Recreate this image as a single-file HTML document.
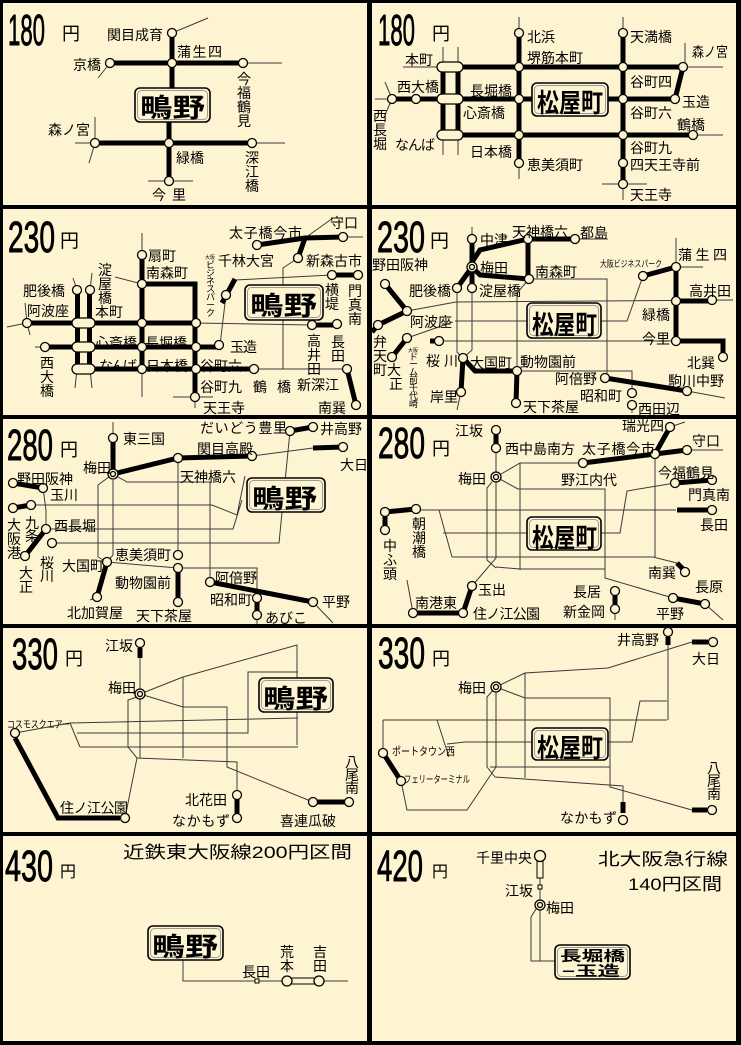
<!DOCTYPE html>
<html><head><meta charset="utf-8">
<style>
html,body{margin:0;padding:0;background:#000;}
svg{display:block}
text{font-family:"Liberation Sans","Noto Sans CJK JP",sans-serif;font-size:14px;fill:#000}
.big{font-size:44px;stroke:#000;stroke-width:0.9}
.yen{font-size:18px}
.bt{font-size:26px;font-weight:bold}
.bt2{font-size:14px;font-weight:bold}
.t1{font-size:17px}
.k{stroke:#000;stroke-width:5;fill:none}
.n{stroke:#3a3a3a;stroke-width:1;fill:none}
.s{fill:#FFF4D2;stroke:#000;stroke-width:1.3}
.b{fill:#FFF4D2;stroke:#000;stroke-width:1.6}
.bi{fill:none;stroke:#9a9a9a;stroke-width:1}
</style></head><body>
<svg width="741" height="1045" viewBox="0 0 741 1045" xmlns="http://www.w3.org/2000/svg">
<rect width="741" height="1045" fill="#000"/>
<g fill="#FFF4D2">
<rect x="3" y="3" width="364" height="202"/>
<rect x="372" y="3" width="364" height="202"/>
<rect x="3" y="209" width="364" height="206"/>
<rect x="372" y="209" width="364" height="206"/>
<rect x="3" y="419" width="364" height="205"/>
<rect x="372" y="419" width="364" height="205"/>
<rect x="3" y="628" width="364" height="204"/>
<rect x="372" y="628" width="364" height="204"/>
<rect x="3" y="836" width="364" height="205"/>
<rect x="372" y="836" width="364" height="205"/>
</g>

<!-- ===== Panel 1 ===== -->
<text class="big" x="8" y="45" textLength="37" lengthAdjust="spacingAndGlyphs">180</text>
<text class="yen" x="62" y="40">円</text>
<path class="n" d="M172,33 L208,18 M243,63 H282 M110,63 L98,78 M95,117 V143 M75,143 H95 M95,143 L89,163 M252,143 H285 M148,181 H193"/>
<path class="k" d="M172,33 V95 M169,115 V181 M110,63 H243 M95,143 H252"/>
<g class="s">
<circle cx="172" cy="33" r="4.5"/><circle cx="172" cy="63" r="4.5"/><circle cx="110" cy="63" r="4.5"/><circle cx="243" cy="63" r="4.5"/>
<circle cx="95" cy="143" r="4.5"/><circle cx="169" cy="143" r="4.5"/><circle cx="252" cy="143" r="4.5"/><circle cx="169" cy="181" r="4.5"/>
</g>
<rect class="b" x="135" y="88" width="75" height="34" rx="5"/><rect class="bi" x="137.5" y="90.5" width="70" height="29" rx="4"/>
<text class="bt" x="140" y="117" textLength="65" lengthAdjust="spacingAndGlyphs">鴫野</text>
<text x="107" y="40">関目成育</text>
<text x="177" y="57" textLength="45" lengthAdjust="spacing">蒲生四</text>
<text x="73" y="70">京橋</text>
<text><tspan x="237" y="84">今</tspan><tspan x="237" y="98">福</tspan><tspan x="237" y="112">鶴</tspan><tspan x="237" y="126">見</tspan></text>
<text x="48" y="135" textLength="42" lengthAdjust="spacing">森ノ宮</text>
<text x="176" y="163">緑橋</text>
<text><tspan x="245" y="163">深</tspan><tspan x="245" y="177">江</tspan><tspan x="245" y="191">橋</tspan></text>
<text x="152" y="200" textLength="34" lengthAdjust="spacing">今里</text>

<!-- ===== Panel 2 ===== -->
<text class="big" x="378" y="45" textLength="37" lengthAdjust="spacingAndGlyphs">180</text>
<text class="yen" x="432" y="40">円</text>
<path class="n" d="M519,17 V33 M519,163 V179 M623,17 V33 M623,184 V200 M602,184 H647 M403,67 H437 M683,67 H723 M685,43 V67 M693,135 H723 M443,47 V62 M458,47 V62 M443,140 V155 M458,140 V155 M392,99 L385,82 M392,99 H375 M392,99 L385,115"/>
<path class="k" d="M519,33 V163 M623,33 V184 M463,67 H683 L675,99 M392,99 H675 M463,135 H693 M443,67 V135 M458,67 V135"/>
<g class="s">
<rect x="437" y="62" width="26" height="10" rx="5"/><rect x="437" y="94" width="26" height="10" rx="5"/><rect x="437" y="130" width="26" height="10" rx="5"/>
<circle cx="519" cy="33" r="4.5"/><circle cx="519" cy="67" r="4.5"/><circle cx="519" cy="99" r="4.5"/><circle cx="519" cy="135" r="4.5"/><circle cx="519" cy="163" r="4.5"/>
<circle cx="623" cy="33" r="4.5"/><circle cx="623" cy="67" r="4.5"/><circle cx="623" cy="99" r="4.5"/><circle cx="623" cy="135" r="4.5"/><circle cx="623" cy="163" r="4.5"/><circle cx="623" cy="184" r="4.5"/>
<circle cx="683" cy="67" r="4.5"/><circle cx="675" cy="99" r="4.5"/><circle cx="693" cy="135" r="4.5"/><circle cx="416" cy="99" r="4.5"/><circle cx="392" cy="99" r="4.5"/>
</g>
<rect class="b" x="532" y="83" width="76" height="33" rx="5"/><rect class="bi" x="534.5" y="85.5" width="71" height="28" rx="4"/>
<text class="bt" x="537" y="112" textLength="66" lengthAdjust="spacingAndGlyphs">松屋町</text>
<text x="527" y="42">北浜</text>
<text x="527" y="63">堺筋本町</text>
<text x="630" y="42">天満橋</text>
<text x="692" y="57" textLength="36" lengthAdjust="spacingAndGlyphs">森ノ宮</text>
<text x="405" y="65">本町</text>
<text x="397" y="92">西大橋</text>
<text x="470" y="96">長堀橋</text>
<text x="463" y="118">心斎橋</text>
<text><tspan x="373" y="121">西</tspan><tspan x="373" y="135">長</tspan><tspan x="373" y="149">堀</tspan></text>
<text x="395" y="150" textLength="40" lengthAdjust="spacing">なんば</text>
<text x="470" y="157">日本橋</text>
<text x="527" y="170">恵美須町</text>
<text x="630" y="87">谷町四</text>
<text x="682" y="107">玉造</text>
<text x="630" y="118">谷町六</text>
<text x="677" y="130">鶴橋</text>
<text x="630" y="153">谷町九</text>
<text x="630" y="170">四天王寺前</text>
<text x="630" y="200">天王寺</text>

<!-- ===== Panel 3 ===== -->
<text class="big" x="8" y="252" textLength="47" lengthAdjust="spacingAndGlyphs">230</text>
<text class="yen" x="60" y="247" style="font-size:19px">円</text>
<path class="n" d="M27,323 L7,327 M27,323 L25,303 M27,323 L30,335 M45,347 H35 M77,369 L75,388 M90,369 L92,388 M77,290 L73,278 M90,290 L92,273 M142,233 V255 M142,369 V397 M173,397 H213 M195,397 V408 M142,284 L115,277 M226,295 L220,345 M235,280 L332,275 M343,237 H363 M305,238 L333,218 M298,258 L283,268 V369 M196,323 L312,325 M254,369 H347"/>
<path class="k" d="M27,323 H196 M45,347 H219 M75,369 H254 M77.5,290 V369 M89.5,290 V369 M142,255 V369 M142,284 H195 V397 M235,279 L222,303 M332,275 H358 M257,245 L305,238 L343,237 M305,238 L298,258 M312,325 H337 M347,369 L356,405"/>
<g class="s">
<rect x="72" y="318" width="23" height="10" rx="5"/><rect x="72" y="342" width="23" height="10" rx="5"/><rect x="72" y="364" width="23" height="10" rx="5"/>
<circle cx="27" cy="323" r="4.5"/><circle cx="45" cy="347" r="4.5"/><circle cx="77" cy="290" r="4.5"/><circle cx="90" cy="290" r="4.5"/>
<circle cx="142" cy="255" r="4.5"/><circle cx="142" cy="284" r="4.5"/><circle cx="142" cy="323" r="4.5"/><circle cx="142" cy="347" r="4.5"/><circle cx="142" cy="369" r="4.5"/>
<circle cx="196" cy="323" r="4.5"/><circle cx="196" cy="347" r="4.5"/><circle cx="196" cy="369" r="4.5"/><circle cx="195" cy="397" r="4.5"/>
<circle cx="219" cy="345" r="4.5"/><circle cx="254" cy="369" r="4.5"/><circle cx="226" cy="295" r="4.5"/>
<circle cx="257" cy="245" r="4.5"/><circle cx="343" cy="237" r="4.5"/><circle cx="298" cy="258" r="4.5"/>
<circle cx="332" cy="275" r="4.5"/><circle cx="358" cy="275" r="4.5"/><circle cx="312" cy="325" r="4.5"/><circle cx="337" cy="324" r="4.5"/>
<circle cx="347" cy="369" r="4.5"/><circle cx="356" cy="405" r="4.5"/>
</g>
<rect class="b" x="245" y="285" width="78" height="35" rx="5"/><rect class="bi" x="247.5" y="287.5" width="73" height="30" rx="4"/>
<text class="bt" x="250" y="315" textLength="67" lengthAdjust="spacingAndGlyphs">鴫野</text>
<text x="229" y="238" textLength="73" lengthAdjust="spacing">太子橋今市</text>
<text x="330" y="228">守口</text>
<text x="218" y="266">千林大宮</text>
<text x="306" y="266">新森古市</text>
<text x="148" y="261" textLength="28" lengthAdjust="spacing">扇町</text>
<text x="146" y="278">南森町</text>
<text><tspan x="98" y="275">淀</tspan><tspan x="98" y="289">屋</tspan><tspan x="98" y="303">橋</tspan></text>
<text x="23" y="296">肥後橋</text>
<text x="27" y="316">阿波座</text>
<text x="95" y="317">本町</text>
<text x="95" y="348">心斎橋</text>
<text x="145" y="348">長堀橋</text>
<text x="230" y="352" textLength="27" lengthAdjust="spacing">玉造</text>
<text x="99" y="371" textLength="38" lengthAdjust="spacing">なんば</text>
<text x="146" y="371">日本橋</text>
<text x="200" y="371">谷町六</text>
<text x="200" y="392">谷町九</text>
<text x="253" y="392">鶴</text><text x="277" y="392">橋</text>
<text x="297" y="390">新深江</text>
<text x="203" y="413">天王寺</text>
<text x="318" y="413">南巽</text>
<text><tspan x="40" y="368">西</tspan><tspan x="40" y="382">大</tspan><tspan x="40" y="396">橋</tspan></text>
<text><tspan x="325" y="295">横</tspan><tspan x="325" y="309">堤</tspan></text>
<text><tspan x="348" y="296">門</tspan><tspan x="348" y="310">真</tspan><tspan x="348" y="324">南</tspan></text>
<text><tspan x="307" y="346">高</tspan><tspan x="307" y="360">井</tspan><tspan x="307" y="374">田</tspan></text>
<text><tspan x="331" y="347">長</tspan><tspan x="331" y="361">田</tspan></text>
<text style="font-size:9px"><tspan x="205" y="259" style="font-size:5px">大</tspan><tspan x="210" y="259" style="font-size:5px">阪</tspan><tspan x="206" y="268">ビ</tspan><tspan x="206" y="276">ジ</tspan><tspan x="206" y="284">ネ</tspan><tspan x="206" y="292">ス</tspan><tspan x="206" y="300">パ</tspan><tspan x="206" y="308">ー</tspan><tspan x="206" y="316">ク</tspan></text>

<!-- ===== Panel 4 ===== -->
<text class="big" x="377" y="252" textLength="48" lengthAdjust="spacingAndGlyphs">230</text>
<text class="yen" x="430" y="247" style="font-size:19px">円</text>
<path class="n" d="M472,239 V227 M575,239 H608 M407,311 L456,302 L733,300 M455,321 H527 M601,321 H627 L643,276 M676,267 H703 M676,267 V238 M407,338 L453,322 M439,341 H676 M457,288 V352 L463,358 M472,288 V350 L463,358 M461,392 L457,410 M529,279 L517,293 V371 M517,371 H632 V393 M529,279 H607 V378 M687,391 L725,398 M632,405 V413"/>
<path class="k" d="M472,239 V288 M472,262 L480,250 L528,239 M528,239 V279 M528,239 H575 M472,267 L480,275 L529,279 M472,267 L457,288 M385,284 L407,311 L378,325 L372,332 M392,357 L407,338 M439,341 H430 M643,276 L676,267 V341 H723 V357 M676,301 H712 M463,358 L461,392 M463,358 L475,371 H517 L516,403 M605,378 L687,391"/>
<g class="s">
<circle cx="472" cy="239" r="4.5"/><circle cx="528" cy="239" r="4.5"/><circle cx="575" cy="239" r="4.5"/>
<circle cx="472" cy="267" r="5"/><circle cx="472" cy="267" r="2.5"/>
<circle cx="457" cy="288" r="4.5"/><circle cx="472" cy="288" r="4.5"/><circle cx="529" cy="279" r="4.5"/>
<circle cx="385" cy="284" r="4.5"/><circle cx="407" cy="311" r="4.5"/><circle cx="378" cy="325" r="4.5"/><circle cx="407" cy="338" r="4.5"/><circle cx="392" cy="357" r="4.5"/>
<circle cx="439" cy="341" r="4.5"/><circle cx="463" cy="358" r="4.5"/><circle cx="461" cy="392" r="4.5"/><circle cx="517" cy="371" r="4.5"/><circle cx="516" cy="403" r="4.5"/>
<circle cx="605" cy="378" r="4.5"/><circle cx="687" cy="391" r="4.5"/><circle cx="632" cy="393" r="4.5"/><circle cx="632" cy="405" r="4.5"/>
<circle cx="643" cy="276" r="4.5"/><circle cx="676" cy="267" r="4.5"/><circle cx="676" cy="301" r="4.5"/><circle cx="712" cy="300" r="4.5"/><circle cx="676" cy="341" r="4.5"/><circle cx="723" cy="357" r="4.5"/>
</g>
<rect class="b" x="527" y="303" width="74" height="35" rx="5"/><rect class="bi" x="529.5" y="305.5" width="69" height="30" rx="4"/>
<text class="bt" x="532" y="334" textLength="65" lengthAdjust="spacingAndGlyphs">松屋町</text>
<text x="480" y="245">中津</text>
<text x="512" y="237">天神橋六</text>
<text x="580" y="238">都島</text>
<text x="372" y="270">野田阪神</text>
<text x="480" y="273">梅田</text>
<text x="535" y="277">南森町</text>
<text x="409" y="296">肥後橋</text>
<text x="479" y="296">淀屋橋</text>
<text x="678" y="260" textLength="49" lengthAdjust="spacing">蒲生四</text>
<text x="600" y="267" style="font-size:9px" textLength="62" lengthAdjust="spacingAndGlyphs">大阪ビジネスパーク</text>
<text x="689" y="296">高井田</text>
<text x="410" y="327">阿波座</text>
<text x="642" y="320">緑橋</text>
<text x="642" y="344">今里</text>
<text><tspan x="373" y="347">弁</tspan><tspan x="373" y="361">天</tspan><tspan x="373" y="375">町</tspan></text>
<text><tspan x="387" y="375">大</tspan><tspan x="389" y="389">正</tspan></text>
<text style="font-size:9px"><tspan x="408" y="352" style="font-size:5px">大</tspan><tspan x="413" y="352" style="font-size:5px">阪</tspan><tspan x="409" y="360">ド</tspan><tspan x="409" y="367">ー</tspan><tspan x="409" y="375">ム</tspan><tspan x="409" y="383">前</tspan><tspan x="409" y="391">千</tspan><tspan x="409" y="399">代</tspan><tspan x="409" y="407">崎</tspan></text>
<text x="426" y="366" textLength="32" lengthAdjust="spacing">桜川</text>
<text x="470" y="368">大国町</text>
<text x="520" y="367">動物園前</text>
<text x="687" y="368">北巽</text>
<text x="555" y="384">阿倍野</text>
<text x="668" y="386">駒川中野</text>
<text x="430" y="402">岸里</text>
<text x="523" y="412">天下茶屋</text>
<text x="580" y="401">昭和町</text>
<text x="638" y="414">西田辺</text>

<!-- ===== Panel 5 ===== -->
<text class="big" x="7" y="460" textLength="46" lengthAdjust="spacingAndGlyphs">280</text>
<text class="yen" x="60" y="456">円</text>
<path class="n" d="M113,422 V438 M252,456 L313,448 M52,543 H279 L290,431 M43,488 L46,510 V529 M31,505 H212 L237,515 L245,476 M46,529 H233 L242,500 M113,474 L98,485 V557 L107,562 M113,480 V555 L107,562 M113,474 L127,482 H210 V582 M178,458 V555 M107,562 L178,568 H257 V598 M313,602 L333,623 M97,597 L90,600 M257,615 V624"/>
<path class="k" d="M113,438 V474 L178,458 L252,456 M313,448 L343,447 M290,431 L313,427 M13,483 L43,488 M13,508 L31,505 M46,529 L25,556 M107,562 L97,597 M178,568 V602 M210,582 L313,602 M257,598 V615"/>
<g class="s">
<circle cx="113" cy="438" r="4.5"/><circle cx="113" cy="474" r="5"/><circle cx="113" cy="474" r="2.5"/>
<circle cx="178" cy="458" r="4.5"/><circle cx="252" cy="456" r="4.5"/><circle cx="343" cy="447" r="4.5"/><circle cx="290" cy="431" r="4.5"/><circle cx="313" cy="427" r="4.5"/>
<circle cx="13" cy="483" r="4.5"/><circle cx="43" cy="488" r="4.5"/><circle cx="13" cy="508" r="4.5"/><circle cx="31" cy="505" r="4.5"/>
<circle cx="46" cy="529" r="4.5"/><circle cx="25" cy="556" r="4.5"/><circle cx="52" cy="543" r="4.5"/>
<circle cx="107" cy="562" r="4.5"/><circle cx="97" cy="597" r="4.5"/><circle cx="178" cy="555" r="4.5"/><circle cx="178" cy="568" r="4.5"/><circle cx="178" cy="602" r="4.5"/>
<circle cx="210" cy="582" r="4.5"/><circle cx="257" cy="598" r="4.5"/><circle cx="257" cy="615" r="4.5"/><circle cx="313" cy="602" r="4.5"/>
</g>
<rect class="b" x="247" y="478" width="78" height="34" rx="5"/><rect class="bi" x="249.5" y="480.5" width="73" height="29" rx="4"/>
<text class="bt" x="252" y="508" textLength="65" lengthAdjust="spacingAndGlyphs">鴫野</text>
<text x="123" y="444">東三国</text>
<text x="200" y="433" textLength="87" lengthAdjust="spacing">だいどう豊里</text>
<text x="320" y="434">井高野</text>
<text x="197" y="454">関目高殿</text>
<text x="340" y="470">大日</text>
<text x="83" y="473">梅田</text>
<text x="180" y="482">天神橋六</text>
<text x="17" y="484">野田阪神</text>
<text x="50" y="500">玉川</text>
<text x="54" y="531">西長堀</text>
<text><tspan x="7" y="530">大</tspan><tspan x="7" y="544">阪</tspan><tspan x="7" y="558">港</tspan></text>
<text><tspan x="25" y="528">九</tspan><tspan x="25" y="541">条</tspan></text>
<text><tspan x="19" y="578">大</tspan><tspan x="19" y="592">正</tspan></text>
<text><tspan x="40" y="568">桜</tspan><tspan x="40" y="581">川</tspan></text>
<text x="62" y="571">大国町</text>
<text x="115" y="560">恵美須町</text>
<text x="115" y="588">動物園前</text>
<text x="215" y="583">阿倍野</text>
<text x="210" y="605">昭和町</text>
<text x="67" y="618">北加賀屋</text>
<text x="136" y="621">天下茶屋</text>
<text x="265" y="623">あびこ</text>
<text x="322" y="607">平野</text>

<!-- ===== Panel 6 ===== -->
<text class="big" x="378" y="458" textLength="47" lengthAdjust="spacingAndGlyphs">280</text>
<text class="yen" x="432" y="455">円</text>
<path class="n" d="M496,448 V477 M670,427 L685,422 M687,450 H723 M655,454 V557 M452,557 H653 L677,563 M496,477 L520,463 H583 M520,463 V570 M496,477 L518,489 H605 V578 L673,598 M496,567 L520,569 H605 M675,483 L627,491 L620,533 H601 M420,510 H676 M439,510 L452,557 M443,533 H527 M496,477 V558 L472,586 M492,482 L487,488 V560 L496,568 M413,613 L407,580 M615,609 V620 M705,604 L723,620"/>
<path class="k" d="M496,430 V448 M583,463 L655,454 L670,427 M655,454 L687,450 M675,483 L712,480 M677,510 H712 M385,512 L416,509 M385,512 V530 M472,586 L463,613 H413 M615,591 V609 M673,598 L705,604 M677,563 L683,569"/>
<g class="s">
<circle cx="496" cy="430" r="4.5"/><circle cx="496" cy="448" r="4.5"/><circle cx="496" cy="477" r="5"/><circle cx="496" cy="477" r="2.5"/>
<circle cx="655" cy="454" r="4.5"/><circle cx="583" cy="463" r="4.5"/><circle cx="670" cy="427" r="4.5"/><circle cx="687" cy="450" r="4.5"/>
<circle cx="675" cy="483" r="4.5"/><circle cx="712" cy="480" r="4.5"/><circle cx="712" cy="510" r="4.5"/>
<circle cx="385" cy="512" r="4.5"/><circle cx="416" cy="509" r="4.5"/><circle cx="385" cy="530" r="4.5"/>
<circle cx="685" cy="572" r="4.5"/><circle cx="472" cy="586" r="4.5"/><circle cx="463" cy="613" r="4.5"/><circle cx="413" cy="613" r="4.5"/>
<circle cx="615" cy="591" r="4.5"/><circle cx="615" cy="609" r="4.5"/><circle cx="673" cy="598" r="4.5"/><circle cx="705" cy="604" r="4.5"/>
</g>
<rect class="b" x="527" y="517" width="74" height="33" rx="5"/><rect class="bi" x="529.5" y="519.5" width="69" height="28" rx="4"/>
<text class="bt" x="532" y="547" textLength="65" lengthAdjust="spacingAndGlyphs">松屋町</text>
<text x="455" y="436">江坂</text>
<text x="505" y="454" textLength="70" lengthAdjust="spacing">西中島南方</text>
<text x="582" y="454" textLength="73" lengthAdjust="spacing">太子橋今市</text>
<text x="622" y="431">瑞光四</text>
<text x="692" y="446">守口</text>
<text x="458" y="484">梅田</text>
<text x="561" y="485">野江内代</text>
<text x="658" y="478">今福鶴見</text>
<text x="688" y="500">門真南</text>
<text x="700" y="530">長田</text>
<text><tspan x="412" y="529">朝</tspan><tspan x="412" y="543">潮</tspan><tspan x="412" y="557">橋</tspan></text>
<text><tspan x="383" y="551">中</tspan><tspan x="383" y="565">ふ</tspan><tspan x="383" y="579">頭</tspan></text>
<text x="648" y="578">南巽</text>
<text x="695" y="592">長原</text>
<text x="478" y="595">玉出</text>
<text x="573" y="597">長居</text>
<text x="415" y="608">南港東</text>
<text x="473" y="619" textLength="67" lengthAdjust="spacing">住ノ江公園</text>
<text x="563" y="617">新金岡</text>
<text x="656" y="619">平野</text>

<!-- ===== Panel 7 ===== -->
<text class="big" x="12" y="669" textLength="46" lengthAdjust="spacingAndGlyphs">330</text>
<text class="yen" x="65" y="665">円</text>
<path class="n" d="M140,658 V694 M140,694 L183,677 L297,645 V745 M80,747 H298 M77,733 H248 V672 H298 M15,733 L70,723 L298,718 M70,723 L80,747 M183,677 V758 M140,694 L183,707 H227 V767 L313,802 M137,758 L237,762 V795 M137,697 L128,700 V747 L137,758 L125,818 M140,694 V758"/>
<path class="k" d="M140,648 V658 M15,738 L58,818 H120 M237,795 V818 M313,802 H349"/>
<g class="s">
<circle cx="140" cy="643" r="4.5"/><circle cx="140" cy="694" r="5"/><circle cx="140" cy="694" r="2.5"/>
<circle cx="15" cy="733" r="4.5"/><circle cx="125" cy="818" r="4.5"/><circle cx="237" cy="795" r="4.5"/><circle cx="237" cy="818" r="4.5"/>
<circle cx="313" cy="802" r="4.5"/><circle cx="349" cy="802" r="4.5"/>
</g>
<rect class="b" x="259" y="678" width="74" height="34" rx="5"/><rect class="bi" x="261.5" y="680.5" width="69" height="29" rx="4"/>
<text class="bt" x="263" y="708" textLength="65" lengthAdjust="spacingAndGlyphs">鴫野</text>
<text x="105" y="651">江坂</text>
<text x="108" y="693">梅田</text>
<text x="7" y="728" style="font-size:10px" textLength="63" lengthAdjust="spacingAndGlyphs">コスモスクエアー</text>
<text x="60" y="813" textLength="68" lengthAdjust="spacing">住ノ江公園</text>
<text x="185" y="805">北花田</text>
<text x="172" y="826" textLength="58" lengthAdjust="spacing">なかもず</text>
<text x="280" y="826">喜連瓜破</text>
<text><tspan x="345" y="767">八</tspan><tspan x="345" y="780">尾</tspan><tspan x="345" y="793">南</tspan></text>

<!-- ===== Panel 8 ===== -->
<text class="big" x="378" y="668" textLength="47" lengthAdjust="spacingAndGlyphs">330</text>
<text class="yen" x="432" y="665">円</text>
<path class="n" d="M668,645 V720 M692,642 L608,668 L525,673 V778 M496,687 L525,673 M496,687 L525,698 H610 V787 L692,810 M490,767 H610 M383,720 H667 M383,720 V753 M437,720 L449,757 M447,744 L465,742 H533 M608,742 H632 L640,701 H667 M496,687 L487,697 V767 L495,777 M496,687 V767 L467,810 H407 L401,781 M495,777 L623,786 V803"/>
<path class="k" d="M668,637 V645 M692,642 H708 M383,753 L401,781 M623,802 V813 M692,810 H707"/>
<g class="s">
<circle cx="668" cy="632" r="4.5"/><circle cx="713" cy="642" r="4.5"/><circle cx="496" cy="687" r="5"/><circle cx="496" cy="687" r="2.5"/>
<circle cx="383" cy="753" r="4.5"/><circle cx="401" cy="781" r="4.5"/><circle cx="623" cy="820" r="4.5"/><circle cx="712" cy="810" r="4.5"/>
</g>
<rect class="b" x="532" y="728" width="76" height="32" rx="5"/><rect class="bi" x="534.5" y="730.5" width="71" height="27" rx="4"/>
<text class="bt" x="537" y="757" textLength="66" lengthAdjust="spacingAndGlyphs">松屋町</text>
<text x="617" y="645">井高野</text>
<text x="692" y="664">大日</text>
<text x="458" y="693">梅田</text>
<text x="392" y="755" style="font-size:11px" textLength="63" lengthAdjust="spacingAndGlyphs">ポートタウン西</text>
<text x="404" y="783" style="font-size:10px" textLength="66" lengthAdjust="spacingAndGlyphs">フェリーターミナル</text>
<text><tspan x="707" y="773">八</tspan><tspan x="707" y="786">尾</tspan><tspan x="707" y="799">南</tspan></text>
<text x="560" y="823" textLength="57" lengthAdjust="spacing">なかもず</text>

<!-- ===== Panel 9 ===== -->
<text class="big" x="5" y="881" textLength="48" lengthAdjust="spacingAndGlyphs">430</text>
<text class="yen" x="60" y="877" style="font-size:16px">円</text>
<text class="t1" x="123" y="858" textLength="229" lengthAdjust="spacingAndGlyphs">近鉄東大阪線200円区間</text>
<path class="n" d="M183,960 V981 H348"/>
<rect class="s" x="255" y="979" width="4" height="4" style="stroke-width:1"/>
<rect class="s" x="290" y="978" width="26" height="6" style="stroke-width:1"/>
<g class="s"><circle cx="287" cy="981" r="5"/><circle cx="319" cy="981" r="5"/></g>
<rect class="b" x="148" y="926" width="75" height="34" rx="5"/><rect class="bi" x="150.5" y="928.5" width="70" height="29" rx="4"/>
<text class="bt" x="152" y="956" textLength="66" lengthAdjust="spacingAndGlyphs">鴫野</text>
<text x="242" y="977">長田</text>
<text><tspan x="280" y="957">荒</tspan><tspan x="280" y="971">本</tspan></text>
<text><tspan x="313" y="957">吉</tspan><tspan x="313" y="971">田</tspan></text>

<!-- ===== Panel 10 ===== -->
<text class="big" x="377" y="881" textLength="46" lengthAdjust="spacingAndGlyphs">420</text>
<text class="yen" x="432" y="877" style="font-size:16px">円</text>
<text class="t1" x="598" y="865" textLength="130" lengthAdjust="spacingAndGlyphs">北大阪急行線</text>
<text class="t1" x="628" y="890" textLength="94" lengthAdjust="spacingAndGlyphs">140円区間</text>
<path class="n" d="M540,878 V900 M540,910 V961 H555 M536,909 L531,917 V961 H540"/>
<rect class="s" x="537" y="861" width="6" height="17" style="stroke-width:1"/>
<rect class="s" x="538" y="885" width="4" height="4" style="stroke-width:1"/>
<g class="s"><circle cx="540" cy="856" r="5.5"/><circle cx="540" cy="905" r="5"/><circle cx="540" cy="905" r="2.5"/></g>
<rect class="b" x="555" y="945" width="75" height="34" rx="5"/><rect class="bi" x="557.5" y="947.5" width="70" height="29" rx="4"/>
<text class="bt2" x="560" y="961" textLength="65" lengthAdjust="spacingAndGlyphs">長堀橋</text>
<text class="bt2" x="562" y="976" textLength="58" lengthAdjust="spacingAndGlyphs">−玉造</text>
<text x="476" y="863">千里中央</text>
<text x="505" y="896">江坂</text>
<text x="546" y="913">梅田</text>
</svg>
</body></html>
